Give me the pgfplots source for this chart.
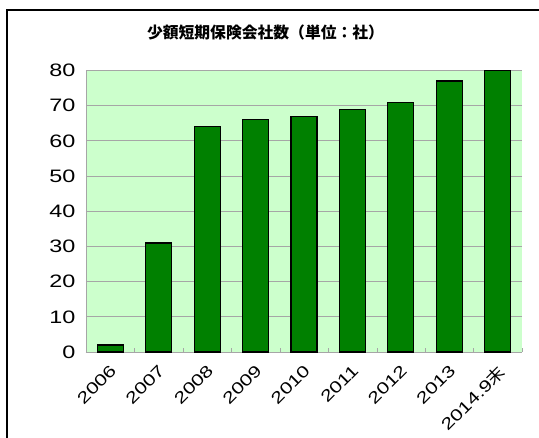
\documentclass[border=0pt]{standalone}
\usepackage{fontspec}
\setmainfont{Liberation Sans}
\newfontfamily\tickfont{Liberation Sans}[FakeStretch=1.3]
\newfontfamily\cjk{Noto Sans CJK JP}
\newfontfamily\cjkw{Noto Sans CJK JP}[FakeStretch=1.1]
\usepackage{pgfplots}
\pgfplotsset{compat=1.18}
\definecolor{bgg}{HTML}{CCFFCC}
\definecolor{barg}{HTML}{008000}
\begin{document}
\begin{tikzpicture}[x=1pt,y=1pt]
\useasboundingbox (0,0) rectangle (539,438);
\draw[line width=1.6pt] (7,-10) rectangle (550,428);
\node[font=\cjk\bfseries\fontsize{15.8}{19}\selectfont] at (265.5,405) {少額短期保険会社数（単位：社）};
\begin{axis}[
  at={(86pt,86pt)}, anchor=south west,
  scale only axis, width=436pt, height=281.5pt,
  xmin=-0.5, xmax=8.5, ymin=0, ymax=80,
  ytick={0,10,...,80},
  xtick={0,...,8},
  xticklabels={2006,2007,2008,2009,2010,2011,2012,2013,{2014.9{\cjkw 末}}},
  minor xtick={-0.5,0.5,...,8.5},
  major tick length=0pt, minor tick length=4pt,
  tick align=inside,
  minor tick style={gray!70},
  axis background/.style={fill=bgg},
  ymajorgrids, grid style={gray!70, line width=0.8pt},
  axis line style={gray!70, line width=0.8pt},
  axis x line*=bottom, axis y line*=left,
  separate axis lines,
  /pgf/number format/assume math mode=true,
  tick label style={font=\tickfont\fontsize{18}{20}\selectfont},
  yticklabel style={xshift=-7pt},
  xticklabel style={font=\tickfont\fontsize{16.3}{18}\selectfont, xshift=-1pt, yshift=-10pt, rotate=45, anchor=north east, inner sep=1pt},
  clip=false,
]
\addplot[ybar, bar width=26pt, fill=barg, draw=black, line width=1.2pt] coordinates {
 (0,2) (1,31) (2,64) (3,66) (4,67) (5,69) (6,71) (7,77) (8,80)
};
\end{axis}
\end{tikzpicture}
\end{document}
